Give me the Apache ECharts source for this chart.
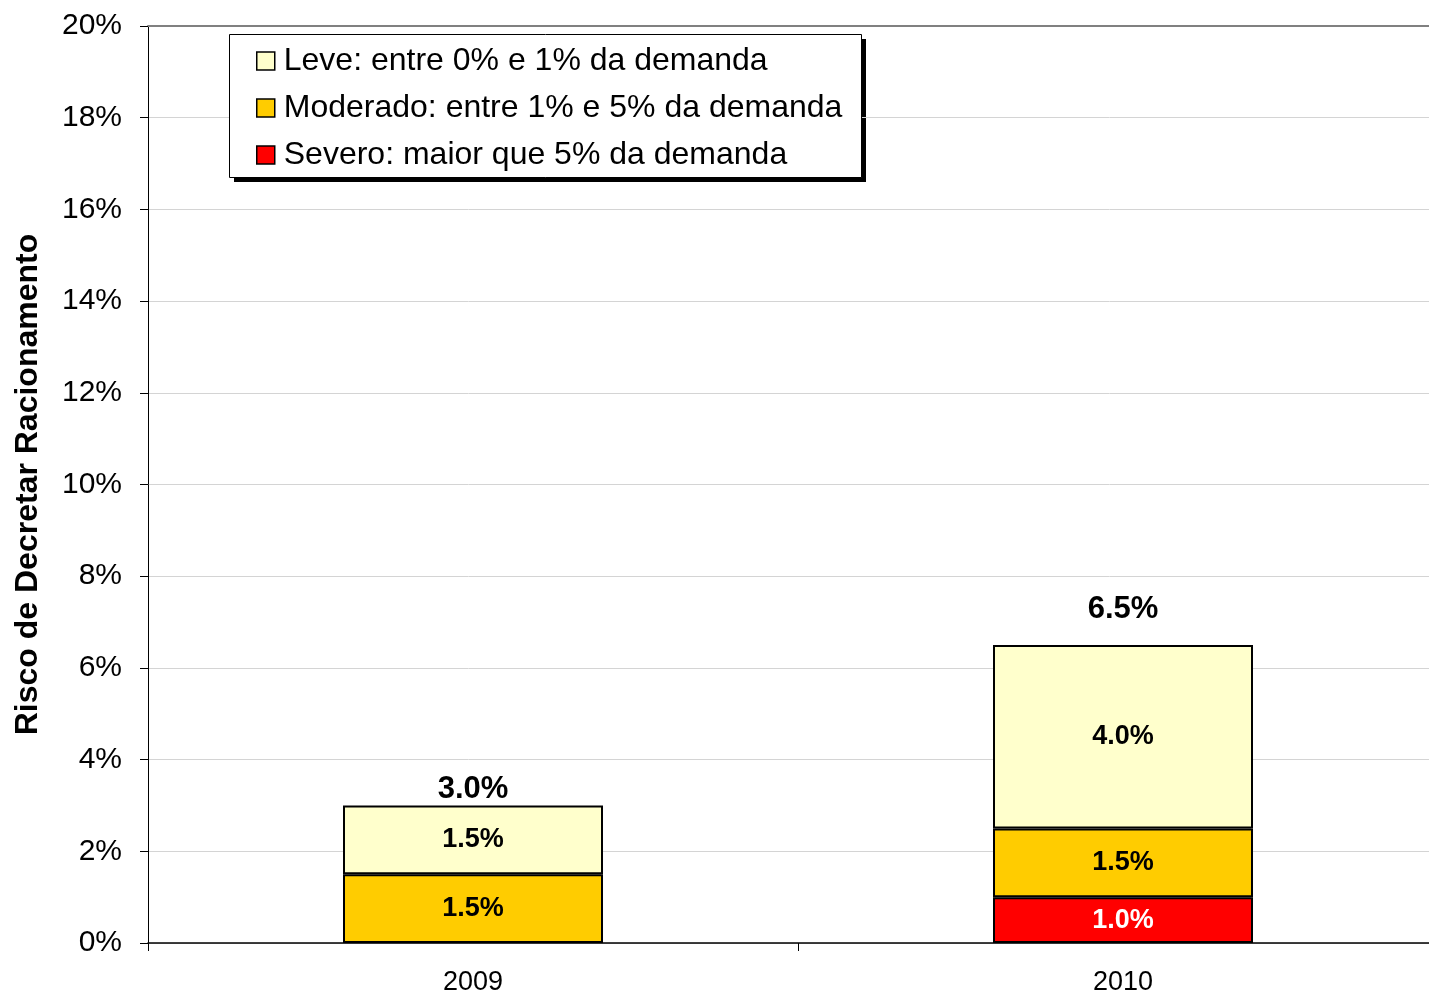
<!DOCTYPE html>
<html>
<head>
<meta charset="utf-8">
<script src="https://cdn.jsdelivr.net/npm/echarts@6/dist/echarts.min.js"></script>
<style>
  html, body { margin: 0; padding: 0; background: #fff; }
  #chart { width: 1429px; height: 995px; }
</style>
</head>
<body>
<div id="chart"></div>
<script>
// dados do gráfico
const anos = ['2009', '2010']
const severo = [null, 1.0]
const moderado = [1.5, 1.5]
const leve = [1.5, 4.0]
const totais = [3.0, 6.5]
const nomes = ['Leve: entre 0% e 1% da demanda', 'Moderado: entre 1% e 5% da demanda', 'Severo: maior que 5% da demanda']

const fonte = 'Arial, "Liberation Sans", sans-serif'
const pct = (v) => v.toFixed(1) + '%'

const chart = echarts.init(document.getElementById('chart'))

// série empilhada padrão
const serie = (name, data, color, labelColor) => ({
  name: name,
  type: 'bar',
  stack: 'risco',
  data: data,
  barWidth: '40%',
  itemStyle: { color: color, borderColor: '#000', borderWidth: 2 },
  label: {
    show: true,
    position: 'inside',
    formatter: (p) => pct(p.value),
    color: labelColor,
    fontSize: 27,
    fontWeight: 'bold',
    fontFamily: fonte
  }
})

const option = {
  animation: false,
  // caixa da legenda com sombra
  graphic: [
    {
      type: 'rect',
      left: 234,
      top: 39,
      z: 0,
      shape: { width: 632, height: 143 },
      style: { fill: '#000' }
    },
    {
      type: 'rect',
      left: 229,
      top: 34,
      z: 1,
      shape: { width: 632, height: 143 },
      style: { fill: '#fff', stroke: '#000', lineWidth: 1 }
    }
  ],
  grid: { left: 148, right: -19, top: 26, bottom: 52, outerBoundsMode: 'none', containLabel: false },
  legend: {
    orient: 'vertical',
    left: 256,
    top: 45,
    z: 10,
    data: nomes,
    icon: 'rect',
    padding: 0,
    itemWidth: 18,
    itemHeight: 18,
    itemGap: 15,
    selectedMode: false,
    itemStyle: { borderColor: '#000', borderWidth: 1.5 },
    textStyle: { fontSize: 32, color: '#000', fontFamily: fonte, lineHeight: 32, padding: [0, 0, 0, 4] }
  },
  xAxis: [
    {
      type: 'category',
      data: anos,
      axisLine: { lineStyle: { color: '#000', width: 1.5 } },
      axisTick: { show: true, length: 8, interval: 0, lineStyle: { color: '#000' } },
      axisLabel: { fontSize: 27, color: '#000', fontFamily: fonte, margin: 26 }
    },
    {
      type: 'category',
      data: anos,
      position: 'top',
      axisLine: { lineStyle: { color: '#808080', width: 2 } },
      axisTick: { show: false },
      axisLabel: { show: false }
    }
  ],
  yAxis: {
    type: 'value',
    min: 0,
    max: 20,
    interval: 2,
    name: 'Risco de Decretar Racionamento',
    nameLocation: 'middle',
    nameGap: 104,
    nameTextStyle: { fontSize: 32, fontWeight: 'bold', color: '#000', fontFamily: fonte },
    axisLine: { show: true, lineStyle: { color: '#000', width: 1 } },
    axisTick: { show: true, length: 8, lineStyle: { color: '#000' } },
    axisLabel: { fontSize: 30, color: '#000', fontFamily: fonte, margin: 26, padding: [4, 0, 0, 0], formatter: '{value}%' },
    splitLine: { lineStyle: { color: '#d4d4d4', width: 1 } }
  },
  series: [
    serie(nomes[2], severo, '#ff0000', '#fff'),
    serie(nomes[1], moderado, '#ffcc00', '#000'),
    serie(nomes[0], leve, '#ffffcc', '#000'),
    {
      // rótulos dos totais
      name: 'total',
      type: 'bar',
      stack: 'risco',
      barWidth: '40%',
      itemStyle: { color: 'transparent', borderWidth: 0 },
      data: totais.map((t, i) => ({ value: 0, label: { distance: i === 0 ? 0 : 20 } })),
      label: {
        show: true,
        position: 'top',
        formatter: (p) => pct(totais[p.dataIndex]),
        color: '#000',
        fontSize: 31,
        fontWeight: 'bold',
        fontFamily: fonte
      }
    }
  ]
}

chart.setOption(option)
</script>
</body>
</html>
